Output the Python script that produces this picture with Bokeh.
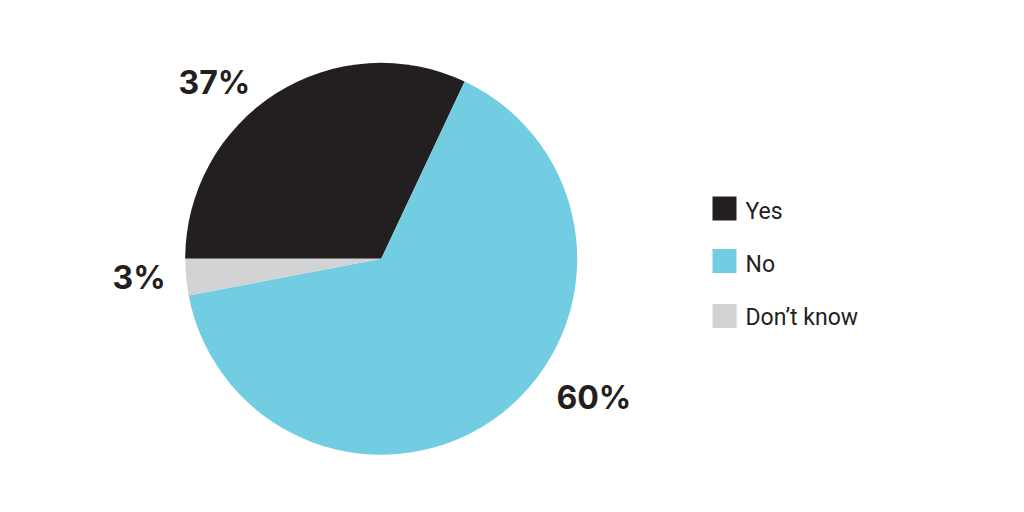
import math
from bokeh.plotting import figure
from bokeh.models import Range1d, ColumnDataSource
from bokeh.core.properties import value
from bokeh.embed import file_html
from bokeh.resources import INLINE

# ---- data ----
categories = ["Yes", "No", "Don\u2019t know"]
shares = [32.0, 65.0, 3.0]            # slice sizes as drawn (percent of circle)
pct_labels = ["37%", "60%", "3%"]     # label texts printed on the chart
colors = ["#231f20", "#72cde3", "#d1d3d4"]

# ---- layout ----
W, H = 1008, 496
cx, cy, R = 380.7, 237.7, 196
label_pos = [(178, 414.5), (556, 99.5), (112, 219.5)]   # left x, baseline y per label
legend_x, legend_text_x = 712, 745
legend_y = [288, 235.5, 180.5]   # centre of swatches
legend_base = [285.5, 232.5, 179.5]
swatch = 24

p = figure(width=W, height=H, output_backend="svg", toolbar_location=None,
           x_range=Range1d(0, W), y_range=Range1d(0, H), min_border=0,
           outline_line_color=None, background_fill_color="white")
p.axis.visible = False
p.grid.visible = False

# wedge angles: Yes ends at 180deg, Don't know starts at 180deg going
# anticlockwise, No fills the rest
yes, no, dk = [s / 100 * 2 * math.pi for s in shares]
base = math.pi
starts = [base - yes, base + dk, base]
ends = [base, base + dk + no, base + dk]

src = ColumnDataSource(dict(start=starts, end=ends, color=colors,
                            x=[cx] * 3, y=[cy] * 3))
p.wedge(x="x", y="y", radius=R, radius_units="screen", start_angle="start",
        end_angle="end", fill_color="color", line_color=None, source=src)

# percentage labels
p.text(x=[lp[0] for lp in label_pos], y=[lp[1] for lp in label_pos],
       text=pct_labels, text_font=value("Inter"), text_font_style="bold",
       text_font_size="32px", text_color="#231f20",
       text_align="left", text_baseline="alphabetic")

# legend
p.rect(x=[legend_x + swatch / 2] * 3, y=legend_y, width=swatch, height=swatch,
       fill_color=colors, line_color=None)
p.text(x=[legend_text_x] * 3, y=legend_base, text=categories,
       text_font=value("Roboto"), text_font_size="23px", text_color="#231f20",
       text_align="left", text_baseline="alphabetic")

open("out.html", "w").write(file_html(p, INLINE))
